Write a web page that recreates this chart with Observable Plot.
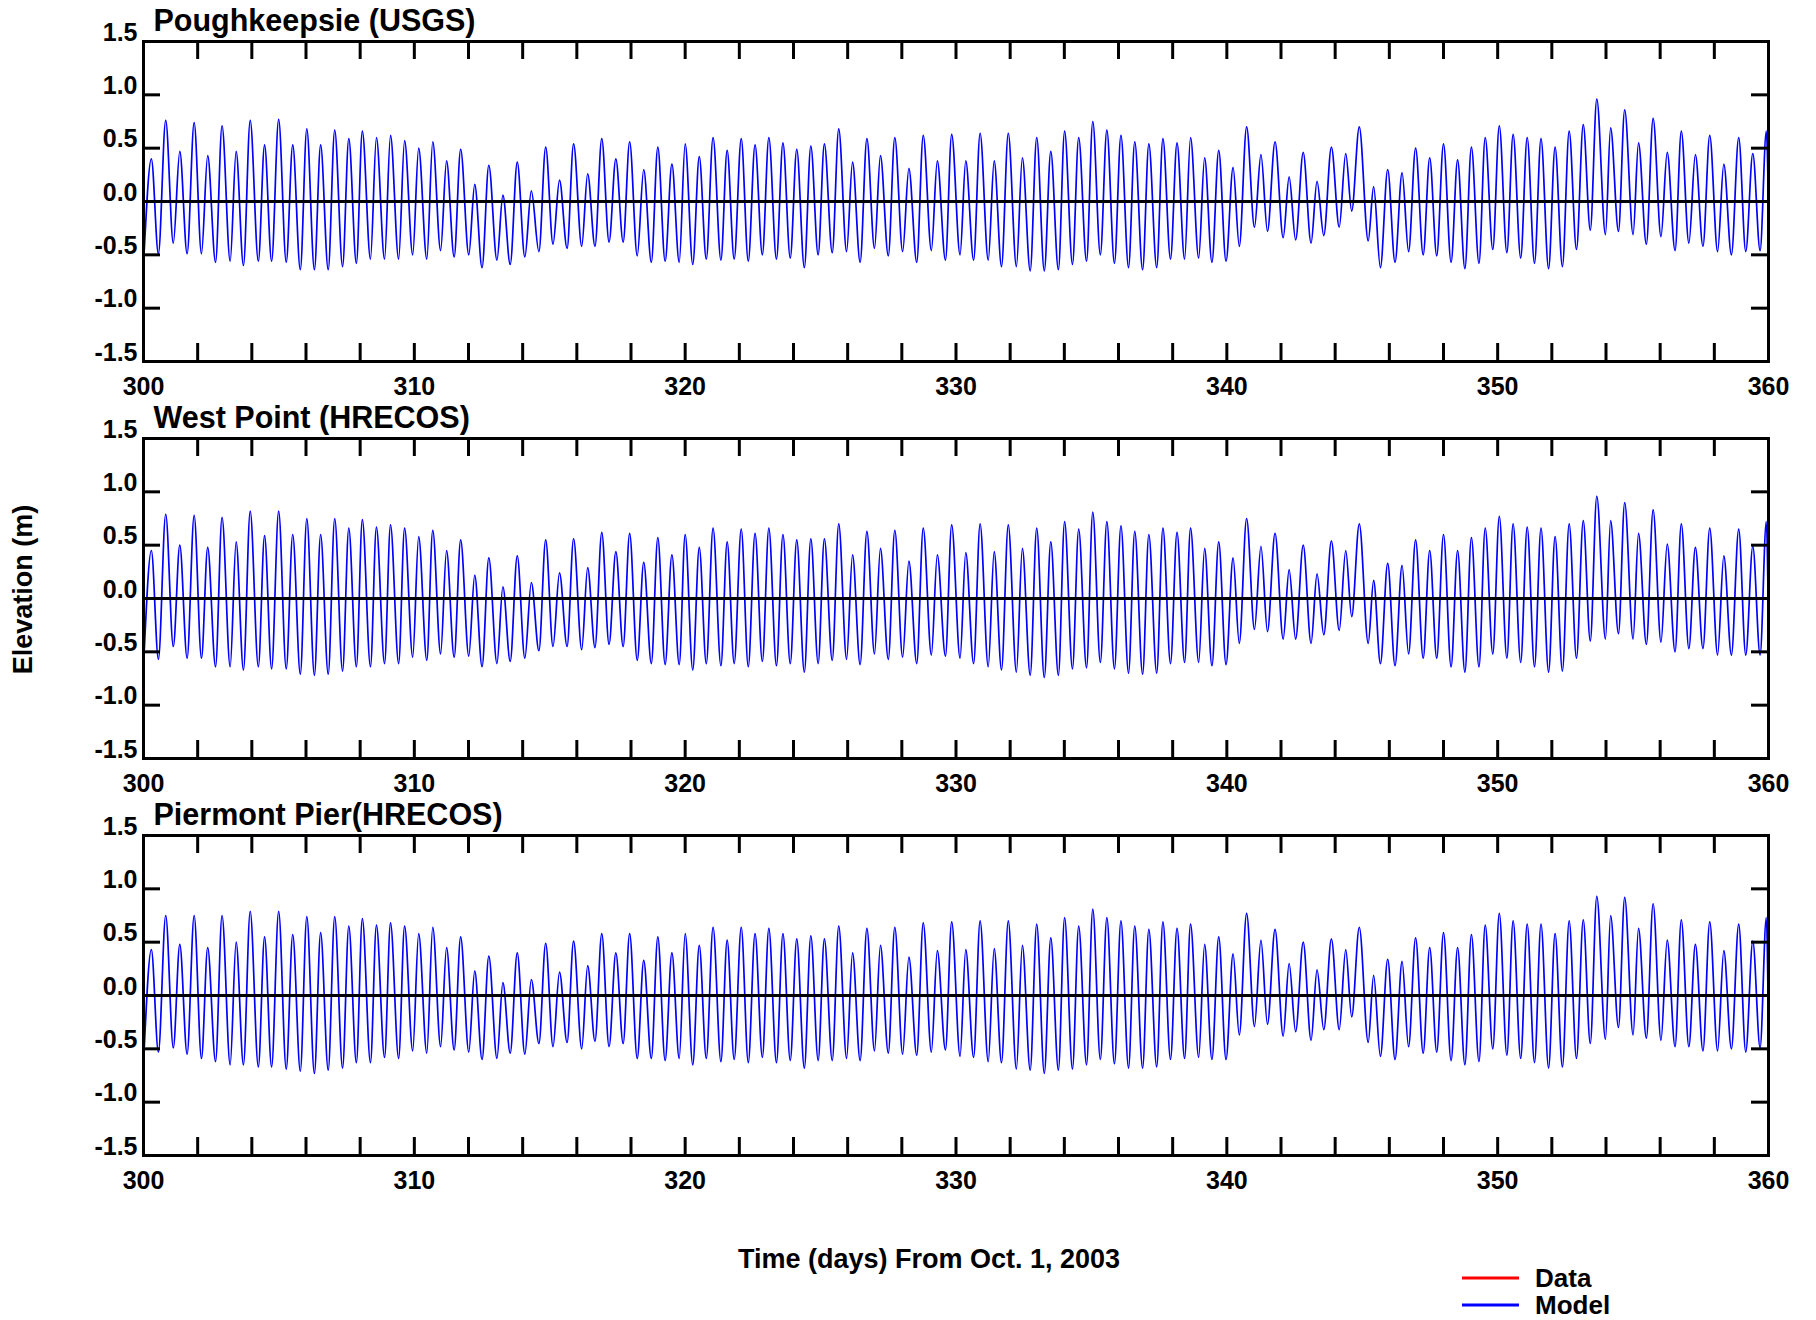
<!DOCTYPE html>
<html><head><meta charset="utf-8">
<script src="https://cdn.jsdelivr.net/npm/d3@7"></script>
<script src="https://cdn.jsdelivr.net/npm/@observablehq/plot@0.6"></script>
<style>
html,body{margin:0;padding:0;background:#fff;}
#fig{position:relative;width:1816px;height:1320px;background:#fff;font-family:"Liberation Sans",Arial,Helvetica,sans-serif;font-weight:bold;color:#000;overflow:hidden;}
.panel{position:absolute;left:0;}
.lbl{position:absolute;font-size:27px;line-height:27px;white-space:nowrap;text-align:center;}
</style></head><body><div id="fig"></div>
<script>
// ---- data (days from Oct. 1, 2003; elevation in m) ----
const stations = ["Poughkeepsie (USGS)", "West Point (HRECOS)", "Piermont Pier(HRECOS)"];

const lowTimes = [300.03,300.55,301.10,301.61,302.14,302.66,303.20,303.69,304.24,304.73,305.27,305.79,306.31,306.82,307.35,307.86,308.38,308.90,309.42,309.94,310.46,310.97,311.47,312.01,312.50,313.05,313.54,314.08,314.60,315.12,315.64,316.18,316.67,317.19,317.71,318.23,318.75,319.26,319.78,
320.28,320.78,321.32,321.81,322.33,322.85,323.37,323.88,324.40,324.91,325.43,325.96,326.46,326.99,327.50,328.03,328.55,329.09,329.61,330.15,330.65,331.19,331.68,332.23,332.74,333.26,333.78,334.30,334.82,335.33,335.85,336.37,336.89,337.41,337.92,338.44,338.96,339.45,339.97,
340.46,341.02,341.50,342.08,342.54,343.11,343.58,344.15,344.61,345.22,345.67,346.21,346.71,347.25,347.75,348.28,348.79,349.31,349.82,350.34,350.85,351.36,351.88,352.39,352.91,353.42,353.98,354.46,355.00,355.49,356.03,356.55,357.06,357.58,358.12,358.63,359.16,359.69];

const highTimes = [300.29,300.82,301.34,301.87,302.37,302.90,303.42,303.94,304.47,304.99,305.51,306.03,306.54,307.06,307.58,308.08,308.60,309.12,309.64,310.16,310.68,311.19,311.71,312.23,312.75,313.27,313.80,314.32,314.85,315.36,315.88,316.40,316.92,317.44,317.95,318.47,318.99,319.51,320.00,
320.52,321.03,321.55,322.07,322.58,323.09,323.61,324.12,324.64,325.14,325.67,326.18,326.71,327.21,327.74,328.26,328.79,329.31,329.84,330.36,330.89,331.41,331.93,332.45,332.98,333.50,334.01,334.53,335.05,335.57,336.09,336.60,337.12,337.64,338.16,338.66,339.18,339.70,
340.23,340.73,341.26,341.78,342.30,342.82,343.33,343.86,344.39,344.89,345.42,345.94,346.47,346.97,347.49,348.00,348.52,349.03,349.54,350.06,350.57,351.09,351.60,352.12,352.64,353.16,353.66,354.17,354.69,355.20,355.74,356.26,356.78,357.30,357.83,358.35,358.90,359.42,359.92];

const poughkeepsieHigh = [0.40,0.76,0.47,0.74,0.43,0.71,0.47,0.76,0.53,0.77,0.53,0.68,0.53,0.67,0.59,0.66,0.60,0.62,0.57,0.50,0.56,0.38,0.49,0.16,0.34,0.06,0.37,0.10,0.51,0.20,0.54,0.26,0.59,0.40,0.56,0.30,0.51,0.35,0.54,
0.42,0.60,0.48,0.59,0.53,0.60,0.55,0.49,0.52,0.54,0.68,0.37,0.59,0.43,0.60,0.31,0.62,0.38,0.63,0.38,0.64,0.38,0.64,0.41,0.60,0.47,0.66,0.60,0.75,0.67,0.62,0.56,0.54,0.59,0.55,0.60,0.41,0.48,
0.32,0.70,0.44,0.56,0.23,0.46,0.19,0.51,0.45,0.70,0.14,0.30,0.27,0.50,0.41,0.54,0.39,0.51,0.60,0.71,0.63,0.60,0.59,0.51,0.66,0.72,0.96,0.69,0.86,0.55,0.78,0.46,0.66,0.44,0.62,0.35,0.60,0.45,0.66];
const poughkeepsieLow = [-0.45,-0.49,-0.39,-0.49,-0.49,-0.57,-0.56,-0.60,-0.56,-0.56,-0.57,-0.64,-0.64,-0.64,-0.61,-0.58,-0.54,-0.54,-0.54,-0.50,-0.54,-0.46,-0.52,-0.50,-0.62,-0.55,-0.59,-0.52,-0.47,-0.40,-0.44,-0.42,-0.42,-0.38,-0.38,-0.51,-0.57,-0.56,-0.57,
-0.59,-0.54,-0.55,-0.54,-0.56,-0.50,-0.54,-0.53,-0.62,-0.50,-0.48,-0.47,-0.57,-0.44,-0.51,-0.47,-0.57,-0.46,-0.55,-0.50,-0.55,-0.55,-0.61,-0.61,-0.65,-0.65,-0.64,-0.59,-0.56,-0.50,-0.58,-0.62,-0.64,-0.62,-0.54,-0.54,-0.53,-0.57,-0.56,
-0.42,-0.24,-0.28,-0.34,-0.36,-0.39,-0.32,-0.24,-0.09,-0.37,-0.62,-0.57,-0.47,-0.50,-0.51,-0.57,-0.63,-0.58,-0.45,-0.48,-0.53,-0.58,-0.63,-0.61,-0.45,-0.27,-0.31,-0.28,-0.31,-0.40,-0.33,-0.46,-0.39,-0.42,-0.47,-0.50,-0.47,-0.46];

const westPointHigh = [0.45,0.79,0.50,0.78,0.48,0.76,0.53,0.82,0.59,0.82,0.60,0.75,0.60,0.75,0.66,0.74,0.67,0.69,0.66,0.58,0.64,0.45,0.55,0.22,0.38,0.11,0.40,0.15,0.55,0.24,0.56,0.29,0.62,0.44,0.61,0.34,0.57,0.41,0.60,
0.48,0.66,0.53,0.65,0.61,0.66,0.60,0.55,0.56,0.56,0.70,0.41,0.63,0.47,0.64,0.35,0.66,0.41,0.69,0.43,0.70,0.44,0.69,0.47,0.66,0.53,0.72,0.65,0.81,0.72,0.68,0.63,0.60,0.66,0.62,0.66,0.47,0.53,
0.38,0.75,0.49,0.61,0.27,0.50,0.23,0.54,0.45,0.70,0.17,0.33,0.31,0.55,0.45,0.60,0.45,0.57,0.66,0.77,0.70,0.67,0.66,0.58,0.70,0.73,0.96,0.73,0.90,0.61,0.83,0.51,0.70,0.48,0.66,0.40,0.65,0.49,0.72];
const westPointLow = [-0.48,-0.57,-0.45,-0.56,-0.56,-0.64,-0.64,-0.67,-0.64,-0.66,-0.66,-0.71,-0.72,-0.71,-0.68,-0.64,-0.64,-0.61,-0.61,-0.55,-0.58,-0.52,-0.55,-0.54,-0.64,-0.61,-0.59,-0.56,-0.49,-0.45,-0.45,-0.48,-0.46,-0.43,-0.45,-0.58,-0.61,-0.62,-0.62,
-0.67,-0.61,-0.63,-0.61,-0.64,-0.59,-0.63,-0.61,-0.69,-0.61,-0.58,-0.57,-0.62,-0.52,-0.57,-0.55,-0.61,-0.53,-0.54,-0.56,-0.61,-0.64,-0.67,-0.69,-0.72,-0.74,-0.72,-0.66,-0.65,-0.60,-0.66,-0.70,-0.71,-0.70,-0.61,-0.60,-0.60,-0.63,-0.62,
-0.42,-0.29,-0.31,-0.38,-0.38,-0.42,-0.34,-0.30,-0.17,-0.42,-0.61,-0.63,-0.52,-0.56,-0.56,-0.64,-0.69,-0.64,-0.52,-0.56,-0.60,-0.64,-0.69,-0.68,-0.56,-0.40,-0.38,-0.33,-0.38,-0.43,-0.41,-0.50,-0.47,-0.47,-0.53,-0.53,-0.53,-0.53];

const piermontHigh = [0.43,0.75,0.48,0.75,0.45,0.75,0.50,0.79,0.55,0.79,0.57,0.74,0.59,0.74,0.65,0.72,0.66,0.68,0.65,0.58,0.64,0.45,0.55,0.23,0.37,0.12,0.40,0.15,0.49,0.22,0.51,0.28,0.58,0.40,0.58,0.33,0.55,0.40,0.58,
0.47,0.64,0.52,0.64,0.58,0.63,0.58,0.53,0.56,0.53,0.65,0.40,0.63,0.47,0.64,0.36,0.68,0.42,0.69,0.43,0.70,0.44,0.70,0.47,0.67,0.54,0.73,0.65,0.81,0.73,0.70,0.65,0.62,0.69,0.63,0.67,0.48,0.55,
0.39,0.77,0.52,0.62,0.30,0.50,0.24,0.53,0.43,0.64,0.19,0.34,0.32,0.54,0.45,0.59,0.45,0.57,0.66,0.77,0.70,0.67,0.67,0.58,0.70,0.71,0.93,0.75,0.92,0.63,0.86,0.52,0.71,0.48,0.69,0.42,0.67,0.51,0.73];
const piermontLow = [-0.48,-0.53,-0.49,-0.55,-0.59,-0.62,-0.65,-0.65,-0.67,-0.67,-0.69,-0.71,-0.73,-0.70,-0.68,-0.63,-0.63,-0.58,-0.59,-0.52,-0.54,-0.48,-0.51,-0.53,-0.60,-0.59,-0.54,-0.55,-0.45,-0.48,-0.44,-0.50,-0.43,-0.48,-0.45,-0.59,-0.59,-0.61,-0.59,
-0.65,-0.59,-0.62,-0.60,-0.63,-0.58,-0.63,-0.61,-0.68,-0.61,-0.61,-0.59,-0.61,-0.52,-0.54,-0.55,-0.56,-0.53,-0.51,-0.57,-0.58,-0.62,-0.63,-0.69,-0.70,-0.73,-0.70,-0.69,-0.65,-0.60,-0.64,-0.68,-0.68,-0.67,-0.60,-0.59,-0.58,-0.60,-0.60,
-0.37,-0.29,-0.27,-0.38,-0.34,-0.42,-0.32,-0.32,-0.20,-0.44,-0.57,-0.60,-0.48,-0.54,-0.53,-0.61,-0.65,-0.62,-0.50,-0.56,-0.59,-0.63,-0.68,-0.67,-0.59,-0.45,-0.41,-0.30,-0.37,-0.40,-0.42,-0.48,-0.48,-0.52,-0.52,-0.50,-0.53,-0.49];

const endTime = 360;
const endValues = [-0.05, -0.28, -0.35];

const xTickLabels = [300, 310, 320, 330, 340, 350, 360];
const xTickMarks = [300,302,304,306,308,310,312,314,316,318,320,322,324,326,328,330,332,334,336,338,340,342,344,346,348,350,352,354,356,358,360];
const yTickValues = [-1.5, -1.0, -0.5, 0.0, 0.5, 1.0, 1.5];

const xLabel = "Time (days) From Oct. 1, 2003";
const yLabel = "Elevation (m)";
const legendItems = [{name: "Data", color: "#ff0000"}, {name: "Model", color: "#0000ff"}];

const highs = [poughkeepsieHigh, westPointHigh, piermontHigh];
const lows = [poughkeepsieLow, westPointLow, piermontLow];

// ---- build ----
function series(lo, hi, endV) {
  const pts = [];
  const n = Math.min(lowTimes.length, highTimes.length, lo.length, hi.length);
  for (let i = 0; i < n; i++) {
    pts.push({t: lowTimes[i], v: lo[i]});
    pts.push({t: highTimes[i], v: hi[i]});
  }
  pts.push({t: endTime, v: endV});
  return pts;
}

const fig = document.getElementById("fig");
const W = 1816, ML = 143, MR = 48, MT = 41, MB = 36, PH = 320;
const frameW = W - ML - MR;

stations.forEach((name, i) => {
  const data = series(lows[i], highs[i], endValues[i]);
  const chart = Plot.plot({
    width: W, height: MT + PH + MB,
    marginLeft: ML, marginRight: MR, marginTop: MT, marginBottom: MB,
    style: {fontFamily: "'Liberation Sans', Arial, Helvetica, sans-serif", fontWeight: "bold", fontSize: "25px", background: "transparent", overflow: "visible", color: "#000"},
    x: {domain: [300, 360]},
    y: {domain: [-1.5, 1.5]},
    marks: [
      Plot.line(data, {x: "t", y: "v", stroke: "#0000ff", strokeWidth: 1.7, curve: "monotone-x"}),
      Plot.ruleY([0], {stroke: "#000", strokeWidth: 3}),
      Plot.tickX(xTickMarks, {x: d => d, insetTop: PH - 18, stroke: "#000", strokeWidth: 3}),
      Plot.tickX(xTickMarks, {x: d => d, insetBottom: PH - 18, stroke: "#000", strokeWidth: 3}),
      Plot.tickY(yTickValues, {y: d => d, insetRight: frameW - 17, stroke: "#000", strokeWidth: 3}),
      Plot.tickY(yTickValues, {y: d => d, insetLeft: frameW - 17, stroke: "#000", strokeWidth: 3}),
      Plot.frame({stroke: "#000", strokeWidth: 3}),
      Plot.axisX(xTickLabels, {anchor: "bottom", tickSize: 0, tickPadding: 16, label: null, fontSize: 25, fill: "#000"}),
      Plot.axisY(yTickValues, {anchor: "left", tickSize: 0, tickPadding: 6, dy: -9, label: null, fontSize: 25, fill: "#000", tickFormat: d => d.toFixed(1)}),
      Plot.text([name], {frameAnchor: "top-left", text: d => d, textAnchor: "start", lineAnchor: "bottom", dx: 10, dy: -11, fontSize: 30.5, fontWeight: "bold", fill: "#000"})
    ]
  });
  chart.classList.add("panel");
  chart.style.top = (i * 397) + "px";
  fig.appendChild(chart);
});

// axis titles
const xl = document.createElement("div");
xl.className = "lbl";
xl.style.left = "629px"; xl.style.width = "600px"; xl.style.top = "1246px";
xl.textContent = xLabel;
fig.appendChild(xl);

const yl = document.createElement("div");
yl.className = "lbl";
yl.style.left = (23 - 150) + "px"; yl.style.width = "300px"; yl.style.top = (589 - 13) + "px";
yl.style.transform = "rotate(-90deg)";
yl.textContent = yLabel;
fig.appendChild(yl);

// legend
const leg = d3.select(fig).append("svg")
  .attr("width", 400).attr("height", 80)
  .style("position", "absolute").style("left", "1440px").style("top", "1250px")
  .style("overflow", "visible");
legendItems.forEach((it, k) => {
  const cy = 28 + k * 27;
  leg.append("line").attr("x1", 22).attr("x2", 79).attr("y1", cy).attr("y2", cy)
    .attr("stroke", it.color).attr("stroke-width", 3);
  leg.append("text").attr("x", 95).attr("y", cy).attr("dy", "0.36em")
    .attr("font-family", "'Liberation Sans', Arial, sans-serif").attr("font-weight", "bold")
    .attr("font-size", 26).attr("fill", "#000").text(it.name);
});
</script></body></html>
